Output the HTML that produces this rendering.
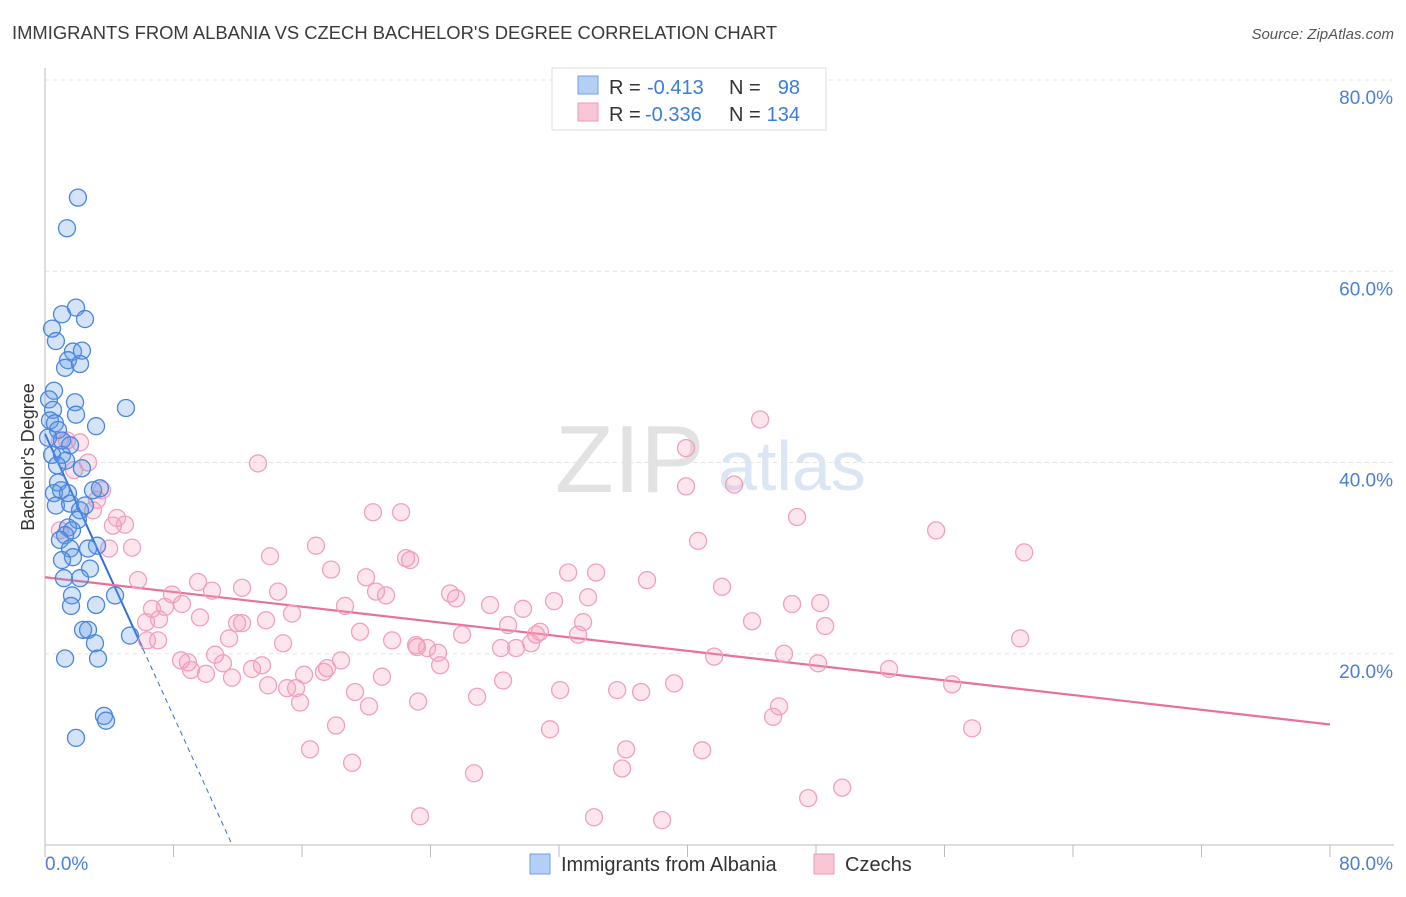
<!DOCTYPE html>
<html><head><meta charset="utf-8"><style>
body{margin:0;background:#fff;font-family:"Liberation Sans",sans-serif}
svg text{font-family:"Liberation Sans",sans-serif}
</style></head><body>
<svg id="chart" width="1406" height="892" xmlns="http://www.w3.org/2000/svg">
<text x="12" y="39" font-size="18.4" fill="#3a3a3a">IMMIGRANTS FROM ALBANIA VS CZECH BACHELOR'S DEGREE CORRELATION CHART</text>
<text x="1394" y="39" font-size="15" fill="#555" text-anchor="end" font-style="italic">Source: ZipAtlas.com</text>
<g>
<text x="555" y="492" font-size="96" fill="#e2e2e2" font-family="Liberation Serif">ZIP</text>
<text x="718" y="490" font-size="70" fill="#dbe6f4">atlas</text>
</g>
<g id="grid"></g>
<g id="axes"></g>
<g id="lines"></g>
<g id="pts"></g>
<text transform="translate(34,457) rotate(-90)" font-size="18" fill="#333" text-anchor="middle">Bachelor's Degree</text>
<g>
<rect x="552" y="68" width="274" height="62" fill="#fff" stroke="#ddd"/>
<rect x="578" y="76" width="20" height="18" fill="#b3cff5" stroke="#6c9fe6"/>
<rect x="578" y="103" width="20" height="18" fill="#f9c6d6" stroke="#ee9ab7"/>
<text x="609" y="94" font-size="20" fill="#333">R =</text>
<text x="647" y="94" font-size="20" fill="#3b7dd8">-0.413</text>
<text x="729" y="94" font-size="20" fill="#333">N =</text>
<text x="800" y="94" font-size="20" fill="#3b7dd8" text-anchor="end">98</text>
<text x="609" y="121" font-size="20" fill="#333">R =</text>
<text x="645" y="121" font-size="20" fill="#3b7dd8">-0.336</text>
<text x="729" y="121" font-size="20" fill="#333">N =</text>
<text x="800" y="121" font-size="20" fill="#3b7dd8" text-anchor="end">134</text>
</g>
<g>
<rect x="530" y="854" width="20" height="20" fill="#b3cff5" stroke="#6c9fe6"/>
<text x="561" y="871" font-size="20" fill="#333">Immigrants from Albania</text>
<rect x="814" y="854" width="20" height="20" fill="#f9c6d6" stroke="#ee9ab7"/>
<text x="845" y="871" font-size="20" fill="#333">Czechs</text>
</g>
</svg>
<script>
const blueX=[2.05,1.37,1.93,1.06,2.49,0.44,0.68,1.74,2.30,1.43,1.25,2.18,0.56,0.25,1.87,0.50,1.93,5.04,3.18,0.31,0.62,0.81,0.19,1.06,1.56,0.44,1.06,1.31,0.75,2.30,0.81,0.56,1.00,1.43,2.99,3.42,0.68,1.56,2.18,2.49,2.05,1.43,1.68,1.25,0.93,3.24,2.68,1.56,1.74,1.06,2.80,2.18,1.18,1.68,4.36,3.18,1.62,2.37,2.68,5.29,3.11,1.25,3.30,3.67,3.80,1.93];
const blueY=[67.7,64.5,56.2,55.5,55.0,54.0,52.7,51.6,51.7,50.7,49.9,50.3,47.5,46.6,46.3,45.5,45.0,45.7,43.8,44.4,44.1,43.4,42.6,42.3,41.8,40.8,40.8,40.2,39.7,39.4,37.9,36.8,37.1,36.8,37.1,37.3,35.5,35.7,35.0,35.5,34.0,33.2,32.9,32.4,31.9,31.3,31.0,31.0,30.1,29.8,28.9,27.9,27.9,26.1,26.1,25.1,25.0,22.5,22.5,21.9,21.1,19.5,19.5,13.5,13.0,11.2];
const pinkX=[0.93,1.37,2.18,2.68,1.81,3.55,3.24,2.99,4.48,4.98,0.93,4.23,3.99,5.42,5.79,7.91,6.66,7.47,8.53,9.65,6.29,7.10,6.35,10.40,9.53,12.27,14.51,13.26,14.01,16.87,17.81,20.42,22.17,22.48,22.73,19.99,20.61,21.23,18.68,15.38,12.27,11.96,13.76,11.46,14.82,19.61,21.61,23.10,23.79,24.47,24.60,23.16,8.90,9.09,10.59,11.08,10.02,11.64,12.89,13.51,13.89,15.07,15.63,15.88,16.13,17.37,17.56,18.43,19.30,20.17,20.98,23.23,26.90,28.52,25.22,25.59,27.71,25.97,28.83,29.76,30.57,30.82,31.69,32.57,33.81,33.19,33.50,28.39,29.33,30.26,34.31,37.48,39.91,39.91,40.66,42.90,44.52,46.82,42.15,44.02,46.51,48.26,48.57,41.66,46.01,48.13,52.55,55.48,60.96,60.71,56.48,57.72,32.07,35.62,37.11,39.17,31.44,36.18,35.93,40.91,45.33,45.70,47.51,49.63,26.71,23.35,34.18,38.42,16.50,18.12,19.12,8.47,7.04];
const pinkY=[42.3,42.3,42.1,40.0,39.2,37.1,36.1,35.0,34.2,33.5,32.9,33.4,31.0,31.1,27.7,26.2,24.7,24.9,25.2,23.8,23.3,23.6,21.4,26.6,27.5,26.9,26.5,39.9,30.2,31.3,28.8,34.8,34.8,30.0,29.8,28.0,26.5,26.1,25.0,24.2,23.2,23.2,23.5,21.6,21.1,22.3,21.4,20.9,20.6,20.1,18.8,20.7,19.1,18.3,19.9,19.0,17.9,17.5,18.4,18.8,16.7,16.4,16.4,14.9,17.8,18.1,18.5,19.3,16.0,14.5,17.6,15.0,15.5,17.2,26.3,25.8,25.1,22.0,23.0,24.7,22.0,22.3,25.5,28.5,25.9,22.0,23.3,20.6,20.6,21.1,28.5,27.7,41.5,37.5,31.8,37.7,44.5,34.3,27.0,23.4,25.2,25.3,22.9,19.7,20.0,19.0,18.4,32.9,30.6,21.6,16.8,12.2,16.2,16.2,16.0,16.9,12.1,10.0,8.0,9.9,13.4,14.5,4.9,6.0,7.5,3.0,2.9,2.6,10.0,12.5,8.6,19.3,21.4];
const blueTrend=[43.0,-3.69]; // intercept, slope
const pinkTrend=[28.0,-0.1925];
const yTicks=[20,40,60,80];
const yTickLabels=["20.0%","40.0%","60.0%","80.0%"];
const xTicks=[0,8,16,24,32,40,48,56,64,72,80];

const NS="http://www.w3.org/2000/svg";
const X0=45,X1=1330,Y0=845,Y80=80;
const sx=v=>X0+(X1-X0)*v/80;
const sy=v=>Y0-(Y0-Y80)*v/80;
function mk(parent,tag,attrs){const e=document.createElementNS(NS,tag);for(const k in attrs)e.setAttribute(k,attrs[k]);document.getElementById(parent).appendChild(e);return e;}

yTicks.forEach((t,i)=>{
  const g=mk('grid','line',{x1:X0,x2:1394,y1:sy(t),y2:sy(t),stroke:'#e3e3e3','stroke-dasharray':'4,4'});
  
  
  const l=mk('axes','text',{x:1393,y:sy(t)+24,'font-size':19,fill:'#4a7fd6','text-anchor':'end'});
  
  
  l.textContent=yTickLabels[i];
});
const ax=mk('axes','line',{x1:X0,x2:X0,y1:68,y2:Y0,stroke:'#bbb'});


const bx=mk('axes','line',{x1:X0,x2:1394,y1:Y0,y2:Y0,stroke:'#bbb'});


xTicks.forEach(t=>{
  const k=mk('axes','line',{x1:sx(t),x2:sx(t),y1:Y0,y2:Y0+12,stroke:'#bbb'});
  
  
});
const xl0=mk('axes','text',{x:45,y:870,'font-size':19,fill:'#4a7fd6'});


xl0.textContent='0.0%';
const xl1=mk('axes','text',{x:1393,y:870,'font-size':19,fill:'#4a7fd6','text-anchor':'end'});


xl1.textContent='80.0%';

pinkX.forEach((x,i)=>{
  const c=mk('pts','circle',{cx:sx(x),cy:sy(pinkY[i]),r:8.5,fill:'rgba(244,160,190,0.28)',stroke:'#f0a0bc','stroke-width':1.3});
  
  
});
blueX.forEach((x,i)=>{
  const c=mk('pts','circle',{cx:sx(x),cy:sy(blueY[i]),r:8.5,fill:'rgba(100,155,230,0.28)',stroke:'#4a86dc','stroke-width':1.3});
  
  
});
const bxEnd=6.1, bxZero=-blueTrend[0]/blueTrend[1];
const b1=mk('lines','line',{x1:sx(0),y1:sy(blueTrend[0]),x2:sx(bxEnd),y2:sy(blueTrend[0]+blueTrend[1]*bxEnd),stroke:'#2f6fd6','stroke-width':2});


const b2=mk('lines','line',{x1:sx(bxEnd),y1:sy(blueTrend[0]+blueTrend[1]*bxEnd),x2:sx(bxZero),y2:sy(0),stroke:'#2f6fd6','stroke-width':1,'stroke-dasharray':'5,4'});


const p1=mk('lines','line',{x1:sx(0),y1:sy(pinkTrend[0]),x2:sx(80),y2:sy(pinkTrend[0]+pinkTrend[1]*80),stroke:'#e8709a','stroke-width':2.2});


</script>
</body></html>
